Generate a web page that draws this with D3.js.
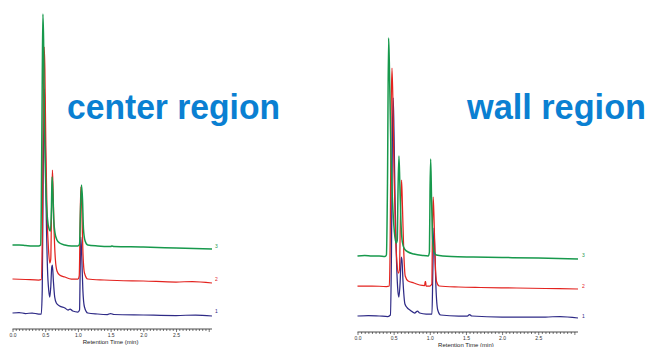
<!DOCTYPE html>
<html>
<head>
<meta charset="utf-8">
<script src="https://cdn.jsdelivr.net/npm/d3@7"></script>
<style>
  body { margin: 0; background: #fff; }
  svg { display: block; }
</style>
</head>
<body>
<div id="chart"></div>
<script>
// Chromatograms, [time (min), signal]
const centerBlue = [[0,16],[0.1,16.5],[0.2,15.5],[0.3,16],[0.4,15],[0.44,15],[0.455,40],[0.47,160],[0.49,240],[0.50,200],[0.515,120],[0.535,60],[0.555,38],[0.57,32],[0.585,42],[0.60,62],[0.61,64],[0.625,48],[0.645,32],[0.67,26],[0.72,23],[0.80,21],[0.85,19],[0.88,20],[0.92,18],[1.00,17],[1.025,19],[1.035,60],[1.045,92],[1.06,70],[1.075,40],[1.10,22],[1.15,16],[1.30,15],[1.45,14.5],[1.50,15.5],[1.55,14.5],[2.00,14],[2.50,13.5],[2.80,14],[3.05,13]];
const centerRed = [[0,50],[0.2,49.5],[0.4,49],[0.44,49.5],[0.455,90],[0.47,220],[0.485,282],[0.495,260],[0.51,180],[0.53,110],[0.55,80],[0.57,66],[0.585,70],[0.595,110],[0.61,159],[0.62,140],[0.635,100],[0.655,70],[0.68,58],[0.72,54],[0.80,52],[0.90,50],[1.00,50],[1.02,53],[1.035,110],[1.045,142],[1.06,120],[1.075,80],[1.10,56],[1.15,50],[1.40,49],[1.60,48.5],[2.00,48],[2.50,47],[2.75,47.5],[3.05,46]];
const centerGreen = [[0,84],[0.10,84],[0.20,83.5],[0.30,83],[0.40,83],[0.43,84],[0.44,120],[0.455,250],[0.465,315],[0.475,290],[0.49,200],[0.51,140],[0.535,110],[0.56,100],[0.58,98],[0.595,120],[0.605,152],[0.615,140],[0.63,110],[0.65,96],[0.68,89],[0.72,86],[0.80,84],[0.90,83],[1.00,83],[1.025,85],[1.04,120],[1.055,144],[1.07,130],[1.085,100],[1.11,88],[1.15,84],[1.30,83],[1.50,82.5],[1.52,83],[1.55,82.5],[2.00,82],[2.50,81],[3.05,80]];

const wallBlue = [[0,16],[0.15,16.5],[0.3,16],[0.42,15.5],[0.455,17],[0.47,80],[0.483,200],[0.494,234],[0.505,200],[0.52,130],[0.54,70],[0.56,40],[0.573,35],[0.59,50],[0.605,75],[0.615,72],[0.63,50],[0.656,28],[0.69,24],[0.725,22],[0.79,19],[0.83,21],[0.86,19],[0.95,18],[1.03,18],[1.042,60],[1.057,104],[1.07,80],[1.085,45],[1.11,22],[1.15,17],[1.4,16],[1.52,16],[1.55,17.5],[1.58,16],[2.0,15],[2.6,15],[2.8,15.5],[3.05,14]];
const wallRed = [[0,46],[0.2,46],[0.4,45.5],[0.44,46],[0.452,90],[0.465,220],[0.477,264],[0.49,230],[0.505,160],[0.525,100],[0.545,70],[0.565,59],[0.58,62],[0.595,120],[0.61,152],[0.622,125],[0.64,80],[0.66,56],[0.70,51],[0.78,49],[0.86,47],[0.93,46.5],[0.935,50.5],[0.943,50.5],[0.948,46],[1.00,46],[1.028,48],[1.038,110],[1.047,135],[1.06,110],[1.075,70],[1.095,50],[1.13,46],[1.4,45],[1.7,44.5],[2.2,44],[2.6,43.5],[3.05,43]];
const wallGreen = [[0,76],[0.1,76.5],[0.2,76],[0.3,76],[0.38,75.5],[0.40,77],[0.415,150],[0.43,294],[0.44,270],[0.46,190],[0.485,130],[0.51,100],[0.535,89],[0.55,92],[0.56,140],[0.573,176],[0.585,150],[0.60,112],[0.62,90],[0.65,83],[0.70,80],[0.78,78],[0.90,76.5],[0.98,76],[0.995,80],[1.003,140],[1.012,173],[1.025,130],[1.04,92],[1.06,80],[1.09,77],[1.3,75.5],[1.6,75],[2.0,74.5],[2.5,74],[3.05,73]];

const traceNames = ["1", "2", "3"];
const tickLabels = ["0.0", "0.5", "1.0", "1.5", "2.0", "2.5"];
const regionTitles = ["center region", "wall region"];

const colors = ["#2e2a86", "#e3231f", "#17994c"];

const svg = d3.select("#chart").append("svg")
    .attr("width", 652)
    .attr("height", 347);

// panel layout
const panels = [
    { traces: [centerBlue, centerRed, centerGreen], x0: 12.5, x1: 212, tmax: 3.05, axisY: 329, top: 9,
      title: regionTitles[0], titleX: 67, titleW: 213, labelX: 215, labelY: [313, 281, 248] },
    { traces: [wallBlue, wallRed, wallGreen], x0: 357.5, x1: 578, tmax: 3.05, axisY: 332, top: 12,
      title: regionTitles[1], titleX: 467, titleW: 179, labelX: 582, labelY: [318, 288, 257] }
];

panels.forEach(p => {
    const xScale = d3.scaleLinear().domain([0, p.tmax]).range([p.x0, p.x1]);
    const yScale = d3.scaleLinear().domain([0, 320]).range([p.axisY, p.top]);

    const line = d3.line()
        .x(d => xScale(d[0]))
        .y(d => yScale(d[1]))
        .curve(d3.curveMonotoneX);

    p.traces.forEach((tr, i) => {
        svg.append("path")
            .datum(tr)
            .attr("fill", "none")
            .attr("stroke", colors[i])
            .attr("stroke-width", i === 2 ? 1.5 : 1.25)
            .attr("stroke-linejoin", "round")
            .attr("d", line);

        svg.append("text")
            .attr("x", p.labelX)
            .attr("y", p.labelY[i])
            .attr("font-family", "Liberation Sans, Arial, sans-serif")
            .attr("font-size", 5)
            .attr("fill", colors[i])
            .text(traceNames[i]);
    });

    // x axis with minor ticks every 0.05 min
    const tickVals = d3.range(0, 61).map(k => k * 0.05).filter(v => v <= p.tmax + 1e-9);
    const xAxis = d3.axisBottom(xScale)
        .tickValues(tickVals)
        .tickSizeOuter(0)
        .tickSizeInner(2)
        .tickPadding(2)
        .tickFormat(v => {
            const k = Math.round(v * 20);
            return k % 10 === 0 ? tickLabels[k / 10] : "";
        });

    const gx = svg.append("g")
        .attr("transform", `translate(0,${p.axisY})`)
        .call(xAxis);
    gx.select(".domain").attr("stroke", "#222").attr("stroke-width", 0.8)
        .attr("d", `M${p.x0},0H${p.x1}`);
    gx.selectAll(".tick line").attr("stroke", "#222").attr("stroke-width", 0.6)
        .attr("y2", v => Math.round(v * 20) % 10 === 0 ? 3 : 2);
    gx.selectAll(".tick text")
        .attr("font-family", "Liberation Sans, Arial, sans-serif")
        .attr("font-size", 5)
        .attr("fill", "#333");

    svg.append("text")
        .attr("x", xScale(1.5))
        .attr("y", p.axisY + 15)
        .attr("text-anchor", "middle")
        .attr("font-family", "Liberation Sans, Arial, sans-serif")
        .attr("font-size", 6)
        .attr("fill", "#222")
        .text("Retention Time (min)");

    svg.append("text")
        .attr("x", p.titleX)
        .attr("y", 119)
        .attr("font-family", "Liberation Sans Narrow, Liberation Sans, Arial, sans-serif")
        .attr("font-weight", "bold")
        .attr("font-size", 35)
        .attr("fill", "#0a80d2")
        .attr("textLength", p.titleW)
        .attr("lengthAdjust", "spacingAndGlyphs")
        .text(p.title);
});
</script>
</body>
</html>
